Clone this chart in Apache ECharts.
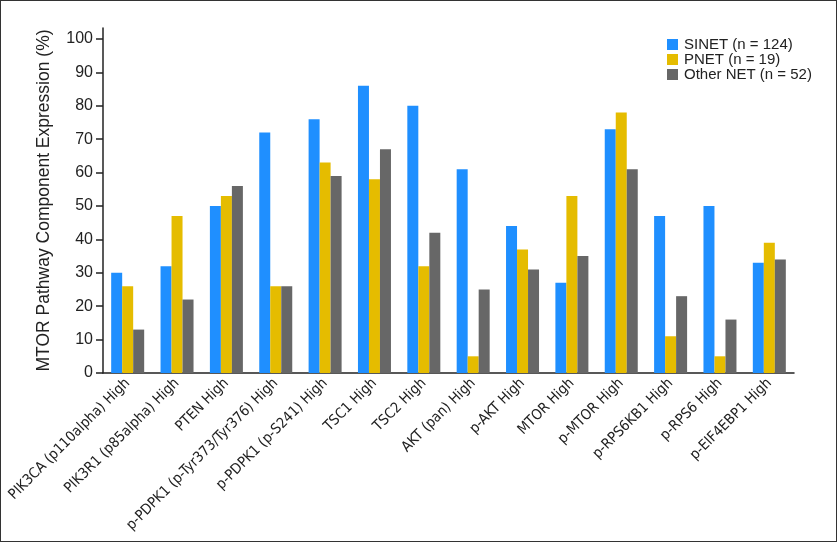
<!DOCTYPE html>
<html>
<head>
<meta charset="utf-8">
<script src="https://cdn.jsdelivr.net/npm/echarts@6/dist/echarts.min.js"></script>
<style>
  html, body { margin: 0; padding: 0; background: #fff; }
  .wrap { position: relative; width: 837px; height: 542px; }
  #chart { width: 837px; height: 542px; }
  .frame {
    position: absolute;
    left: 0; top: 0;
    width: 837px;
    height: 542px;
    box-sizing: border-box;
    border: 1.5px solid #333;
    pointer-events: none;
  }
</style>
</head>
<body>
<div class="wrap"><div id="chart"></div><div class="frame"></div></div>
<script>
// categories + values
var categories = [
  "PIK3CA (p110alpha) High",
  "PIK3R1 (p85alpha) High",
  "PTEN High",
  "p-PDPK1 (p-Tyr373/Tyr376) High",
  "p-PDPK1 (p-S241) High",
  "TSC1 High",
  "TSC2 High",
  "AKT (pan) High",
  "p-AKT High",
  "MTOR High",
  "p-MTOR High",
  "p-RPS6KB1 High",
  "p-RPS6 High",
  "p-EIF4EBP1 High"
];
var sinet = [30, 32, 50, 72, 76, 86, 80, 61, 44, 27, 73, 47, 50, 33];
var pnet = [26, 47, 53, 26, 63, 58, 32, 5, 37, 53, 78, 11, 5, 39];
var otherNet = [13, 22, 56, 26, 59, 67, 42, 25, 31, 35, 61, 23, 16, 34];
var seriesNames = ["SINET (n = 124)", "PNET (n = 19)", "Other NET (n = 52)"];
var yTicks = [0, 10, 20, 30, 40, 50, 60, 70, 80, 90, 100];

var colors = ["#1f8fff", "#e5bc00", "#676767"];
var axisColor = "#222";

var chart = echarts.init(document.getElementById("chart"));

function bar(name, data) {
  return {
    name: name,
    type: "bar",
    data: data,
    barWidth: 11,
    barGap: "0%"
  };
}

chart.setOption({
  animation: false,
  color: colors,
  textStyle: { fontFamily: "Liberation Sans, Arial, sans-serif" },
  grid: { left: 103, right: 43, top: 28, bottom: 169 },
  legend: {
    orient: "vertical",
    left: 667,
    top: 37,
    padding: 0,
    itemWidth: 11,
    itemHeight: 11,
    itemGap: 0,
    icon: "rect",
    textStyle: { fontSize: 15, lineHeight: 15, color: "#222", padding: [0, 0, 0, 1] },
    data: seriesNames
  },
  xAxis: {
    type: "category",
    data: categories,
    axisLine: { lineStyle: { color: axisColor, width: 1.5 } },
    axisTick: { length: 7, lineStyle: { color: axisColor, width: 1.5 } },
    axisLabel: {
      rotate: 45,
      interval: 0,
      margin: 8,
      fontSize: 14.5,
      color: "#222",
      fontFamily: "'DejaVu Sans Condensed', sans-serif"
    }
  },
  yAxis: {
    type: "value",
    min: 0,
    max: 103.3,
    name: "MTOR Pathway Component Expression (%)",
    nameLocation: "middle",
    nameGap: 50,
    nameTextStyle: { fontSize: 17.5, color: "#222" },
    splitLine: { show: false },
    axisLine: { show: true, lineStyle: { color: axisColor, width: 1.5 } },
    axisTick: { show: true, length: 7, customValues: yTicks, lineStyle: { color: axisColor, width: 1.5 } },
    axisLabel: { customValues: yTicks, fontSize: 16, color: "#222", margin: 10 }
  },
  series: [
    bar(seriesNames[0], sinet),
    bar(seriesNames[1], pnet),
    bar(seriesNames[2], otherNet)
  ]
});
</script>
</body>
</html>
